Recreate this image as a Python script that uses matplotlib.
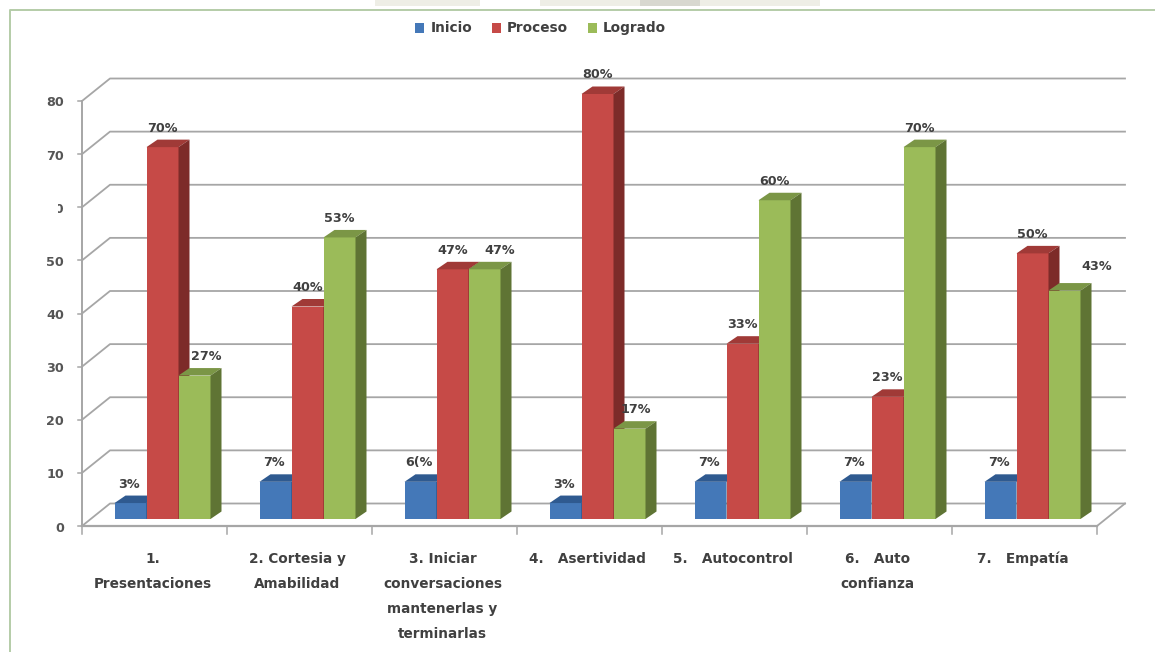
import matplotlib
matplotlib.use("Agg")
import matplotlib.pyplot as plt
from matplotlib.patches import Rectangle

categories = ["1.\nPresentaciones", "2. Cortesia y\nAmabilidad",
              "3. Iniciar\nconversaciones\nmantenerlas y\nterminarlas",
              "4.   Asertividad", "5.   Autocontrol", "6.   Auto\nconfianza",
              "7.   Empatía"]
inicio = [3, 7, 7, 3, 7, 7, 7]
proceso = [70, 40, 47, 80, 33, 23, 50]
logrado = [27, 53, 47, 17, 60, 70, 43]
inicio_labels = ["3%", "7%", "6(%", "3%", "7%", "7%", "7%"]
proceso_labels = ["70%", "40%", "47%", "80%", "33%", "23%", "50%"]
logrado_labels = ["27%", "53%", "47%", "17%", "60%", "70%", "43%"]
series_names = ["Inicio", "Proceso", "Logrado"]
yticks = [0, 10, 20, 30, 40, 50, 60, 70, 80]

W, H = 1155, 652
fig = plt.figure(figsize=(W / 100, H / 100), dpi=100, facecolor="white")
bg = fig.add_axes([0, 0, 1, 1])
bg.set_xlim(0, W); bg.set_ylim(H, 0); bg.axis("off")
# page frame and the watermark strip above it
bg.add_patch(Rectangle((375, 0), 445, 6, fc="#eeeee6", ec="none"))
bg.add_patch(Rectangle((480, 0), 60, 6, fc="white", ec="none"))
bg.add_patch(Rectangle((640, 0), 60, 6, fc="#d8d8d0", ec="none"))
bg.plot([9.5, 9.5, W], [H, 9.5, 9.5], color="#b4cca8", lw=1.4)

L, R, T, B = 82, 1097, 101, 526
ax = fig.add_axes([L / W, 1 - B / H, (R - L) / W, (B - T) / H])
ax.set_xlim(0, 7); ax.set_ylim(0, 80)
ax.axis("off")
px = 7 / (R - L)      # data units per pixel, x
py = 80 / (B - T)     # data units per pixel, y

grid_c = "#a6a6a6"
wall_x, wall_y = 28 * px, 22.5 * py
for v in yticks:
    ax.plot([0, wall_x, 7 + wall_x], [v, v + wall_y, v + wall_y], color=grid_c, lw=1.3,
            clip_on=False, zorder=1, solid_joinstyle="round")
ax.plot([7, 7 + wall_x], [0, wall_y], color=grid_c, lw=1.3, clip_on=False, zorder=1)
ax.plot([0, 0], [0, 80], color=grid_c, lw=1.4, clip_on=False, zorder=1.5)
ax.plot([0, 7], [0, 0], color=grid_c, lw=1.6, clip_on=False, zorder=1.5)
for v in yticks:
    ax.plot([-4 * px, 0], [v, v], color=grid_c, lw=1.1, clip_on=False, zorder=1.5)
    ax.text(-18 * px, v - 2 * py, str(v), ha="right", va="center", fontsize=9.2,
            color="#555555", fontweight="bold", clip_on=False)
for i in range(8):
    ax.plot([i, i], [0, -8 * py], color=grid_c, lw=1.1, clip_on=False, zorder=1.5)

# scan damage over the 60 tick label
bg.set_zorder(0); ax.set_zorder(1); ax.patch.set_visible(False)
ax.add_patch(Rectangle((-44 * px, 57), 20 * px, 6, fc="white", ec="none", zorder=50, clip_on=False))

palette = [("#4478b8", "#2f5a90", "#26497a"),
           ("#c64a47", "#a03a37", "#7d2b29"),
           ("#9bbb59", "#7b9646", "#5f7434")]
bar_w = 32 * px
base_x, base_y = 8 * px, 7 * py
dep_x, dep_y = 11 * px, 7.5 * py
series = [inicio, proceso, logrado]
all_labels = [inicio_labels, proceso_labels, logrado_labels]
# label nudges in pixels, as placed in the source chart
label_dx = [[-2] * 7, [0] * 7, [12, 0, 15, 6, 0, 0, 32]]
label_dy = [[0] * 7, [0] * 7, [0, 0, 0, 0, 0, 0, 5]]

for s, vals in enumerate(series):
    front, top, side = palette[s]
    for i, v in enumerate(vals):
        left = i + 0.5 + base_x + (s - 1.5) * bar_w
        right = left + bar_w
        y0, y1 = base_y, base_y + v
        z = 3 + s
        ax.bar(left, v, width=bar_w, bottom=y0, align="edge", color=front,
               linewidth=0, zorder=z, clip_on=False)
        ax.fill([left, left + dep_x, right + dep_x, right],
                [y1, y1 + dep_y, y1 + dep_y, y1], color=top, lw=0, zorder=z, clip_on=False)
        ax.fill([right, right + dep_x, right + dep_x, right],
                [y0, y0 + dep_y, y1 + dep_y, y1], color=side, lw=0, zorder=z, clip_on=False)
        ax.text((left + right) / 2 + label_dx[s][i] * px,
                y1 + dep_y + (5 + label_dy[s][i]) * py,
                all_labels[s][i], ha="center", va="bottom", fontsize=9.2,
                color="#404040", fontweight="bold", zorder=10, clip_on=False)

for i, c in enumerate(categories):
    ax.text(i + 0.5 - 2 * px, -26 * py, c, ha="center", va="top", fontsize=9.8,
            color="#404040", fontweight="bold", linespacing=2.0, clip_on=False)

# legend
lx = [415, 492, 588]
tx = [431, 507, 603]
for x, t, name, pal in zip(lx, tx, series_names, palette):
    bg.add_patch(Rectangle((x, 23), 9, 10, fc=pal[0], ec="none"))
    bg.text(t, 28, name, ha="left", va="center", fontsize=9.8, color="#404040",
            fontweight="bold")

fig.savefig("out.png", dpi=100, facecolor="white")
